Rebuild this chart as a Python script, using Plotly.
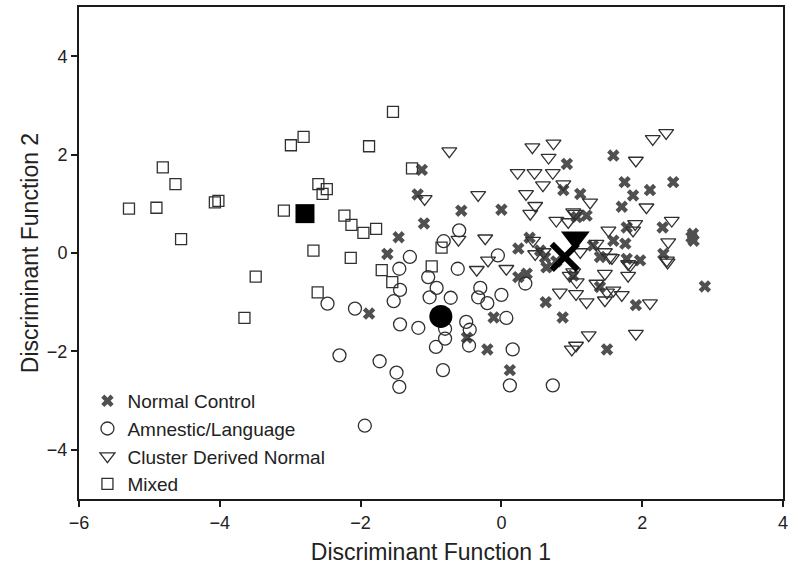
import plotly.graph_objects as go

# ---- data ----
nc_x = [-1.13, -1.19, -0.57, 0.00, -1.10, -1.46, -1.62, 0.24, 0.36, 0.24, 0.93, 0.88, 1.12, 1.21, 1.07,
        0.40, 0.64, -1.88, -0.11, -0.49, -0.20, 0.12, 0.63, 0.87, 1.50, 1.91, 2.89, 1.59, 2.44, 1.75,
        2.11, 1.87, 1.71, 1.78, 2.29, 2.72, 2.73, 2.70, 0.62, 1.40, 1.59, 1.76, 1.78, 1.97, 2.30, 1.40,
        1.02, 0.78, 0.55, 1.30]
nc_y = [1.69, 1.19, 0.86, 0.88, 0.60, 0.32, -0.02, 0.09, -0.42, -0.49, 1.81, 1.28, 1.20, 0.76, 0.73,
        0.31, -0.29, -1.23, -1.31, -1.72, -1.96, -2.38, -1.00, -1.31, -1.96, -1.06, -0.68, 1.98, 1.44, 1.44,
        1.28, 1.17, 0.94, 0.52, 0.52, 0.39, 0.25, 0.32, -0.09, -0.08, 0.25, 0.19, -0.12, -0.15, -0.02, -0.69,
        -0.46, -0.17, 0.05, 0.15]

am_x = [-0.60, -0.82, -1.30, -1.45, -1.44, -1.53, -1.04, -0.92, -1.02, -0.72, -0.80, -0.80, -0.93, -0.83,
        -2.08, -2.47, -1.44, -1.18, -2.30, -1.73, -1.49, -1.45, -0.62, -0.30, -0.33, -0.20, 0.00, 0.07,
        -0.50, -0.45, -0.46, 0.16, 0.12, 0.73, 0.34, -0.05, -1.94]
am_y = [0.46, 0.24, -0.08, -0.32, -0.75, -0.98, -0.49, -0.71, -0.90, -0.91, -1.54, -1.74, -1.91, -2.38,
        -1.13, -1.03, -1.45, -1.52, -2.08, -2.20, -2.43, -2.72, -0.32, -0.71, -0.90, -1.02, -0.85, -1.32,
        -1.40, -1.56, -1.88, -1.96, -2.69, -2.69, -0.62, -0.05, -3.51]

cd_x = [-0.74, -1.09, -0.33, -0.23, -0.61, 0.44, 0.74, 0.67, 0.23, 0.47, 0.73, 0.59, 0.88, 0.35, 0.48,
        0.41, 1.26, 1.02, 0.78, 0.95, -0.35, -0.19, 0.07, 0.45, 1.91, 2.15, 2.34, 2.06, 1.52, 1.90,
        1.87, 2.42, 2.37, 2.35, 1.35, 1.47, 1.54, 1.80, 1.80, 1.47, 1.35, 1.50, 1.59, 1.71, 1.47, 2.11,
        1.91, 1.24, 1.06, 1.00, 1.21, 1.06, 0.83, 1.07, 0.48, 0.60, 1.12, 1.02, 1.05, 1.57, 1.83, 2.36,
        0.97]
cd_y = [2.07, 1.10, 1.18, 0.30, 0.27, 2.15, 2.23, 1.94, 1.63, 1.63, 1.63, 1.38, 1.40, 1.20, 0.96,
        0.80, 1.03, 0.83, 0.66, 0.63, -0.34, -0.15, -0.32, 0.25, 1.88, 2.32, 2.44, 0.93, 0.46, 0.59,
        0.46, 0.66, 0.22, -0.15, 0.19, 0.02, -0.09, -0.22, -0.46, -0.42, -0.62, -0.80, -0.76, -0.85, -0.96, -1.02,
        -1.64, -1.67, -1.88, -1.96, -1.00, -0.83, -0.80, -0.59, -0.02, 0.02, 0.02, -0.39, 0.80, -0.10, -0.25, -0.19,
        -0.46]

mx_x = [-5.29, -4.90, -4.81, -4.63, -4.55, -4.07, -4.02, -3.49, -3.09, -2.99, -2.81, -1.54, -1.88, -1.27,
        -2.60, -2.48, -2.54, -2.23, -2.13, -1.96, -1.78, -2.67, -2.14, -1.70, -1.55, -2.61, -0.99, -0.85,
        -3.65]
mx_y = [0.90, 0.92, 1.74, 1.40, 0.28, 1.03, 1.06, -0.48, 0.86, 2.19, 2.36, 2.87, 2.17, 1.72,
        1.40, 1.30, 1.20, 0.76, 0.57, 0.41, 0.49, 0.05, -0.10, -0.35, -0.59, -0.80, -0.27, 0.11,
        -1.32]

# group centroids
cen_nc = (0.90, -0.08)
cen_am = (-0.86, -1.29)
cen_cd = (1.05, 0.31)
cen_mx = (-2.79, 0.80)

names = ["Normal Control", "Amnestic/Language", "Cluster Derived Normal", "Mixed"]
x_ticks = [-6, -4, -2, 0, 2, 4]
y_ticks = [-4, -2, 0, 2, 4]

FONT = "Liberation Sans, Arial, sans-serif"
fig = go.Figure()

fig.add_trace(go.Scatter(x=nc_x, y=nc_y, mode="markers", name=names[0],
                         marker=dict(symbol="x", size=11, color="#505050", line=dict(width=0))))
fig.add_trace(go.Scatter(x=am_x, y=am_y, mode="markers", name=names[1],
                         marker=dict(symbol="circle-open", size=13, color="#303030", line=dict(width=1.3))))
fig.add_trace(go.Scatter(x=cd_x, y=cd_y, mode="markers", name=names[2],
                         marker=dict(symbol="triangle-down-open", size=13, color="#303030", line=dict(width=1.3))))
fig.add_trace(go.Scatter(x=mx_x, y=mx_y, mode="markers", name=names[3],
                         marker=dict(symbol="square-open", size=11, color="#303030", line=dict(width=1.3))))

# centroids
fig.add_trace(go.Scatter(x=[cen_nc[0]], y=[cen_nc[1]], mode="markers", showlegend=False,
                         marker=dict(symbol="x-thin-open", size=26, color="black", line=dict(width=6, color="black"))))
fig.add_trace(go.Scatter(x=[cen_am[0]], y=[cen_am[1]], mode="markers", showlegend=False,
                         marker=dict(symbol="circle", size=23, color="black")))
fig.add_trace(go.Scatter(x=[cen_cd[0]], y=[cen_cd[1]], mode="markers", showlegend=False,
                         marker=dict(symbol="triangle-down", size=25, color="black")))
fig.add_trace(go.Scatter(x=[cen_mx[0]], y=[cen_mx[1]], mode="markers", showlegend=False,
                         marker=dict(symbol="square", size=19, color="black")))

axis_common = dict(showgrid=False, zeroline=False, showline=True, linecolor="#1a1a1a", linewidth=2,
                   mirror=True, ticks="outside", ticklen=6, tickwidth=1.5, tickcolor="#1a1a1a",
                   automargin=False, ticklabeloverflow="allow",
                   tickfont=dict(family=FONT, size=18, color="#222"))

fig.update_layout(
    width=788, height=570,
    margin=dict(l=79, r=5, t=7, b=71),
    paper_bgcolor="white", plot_bgcolor="white",
    font=dict(family=FONT, color="#222"),
    xaxis=dict(range=[-6, 4], tickvals=x_ticks,
               title=dict(text="Discriminant Function 1", font=dict(family=FONT, size=23, color="#222"), standoff=12),
               **axis_common),
    yaxis=dict(range=[-5, 5], tickvals=y_ticks,
               title=dict(text="Discriminant Function 2", font=dict(family=FONT, size=23, color="#222"), standoff=2),
               **axis_common),
    legend=dict(x=0.012, y=-0.008, xanchor="left", yanchor="bottom", bgcolor="rgba(0,0,0,0)",
                font=dict(family=FONT, size=19, color="#222")),
    showlegend=True,
)

fig.write_html("out.html")
